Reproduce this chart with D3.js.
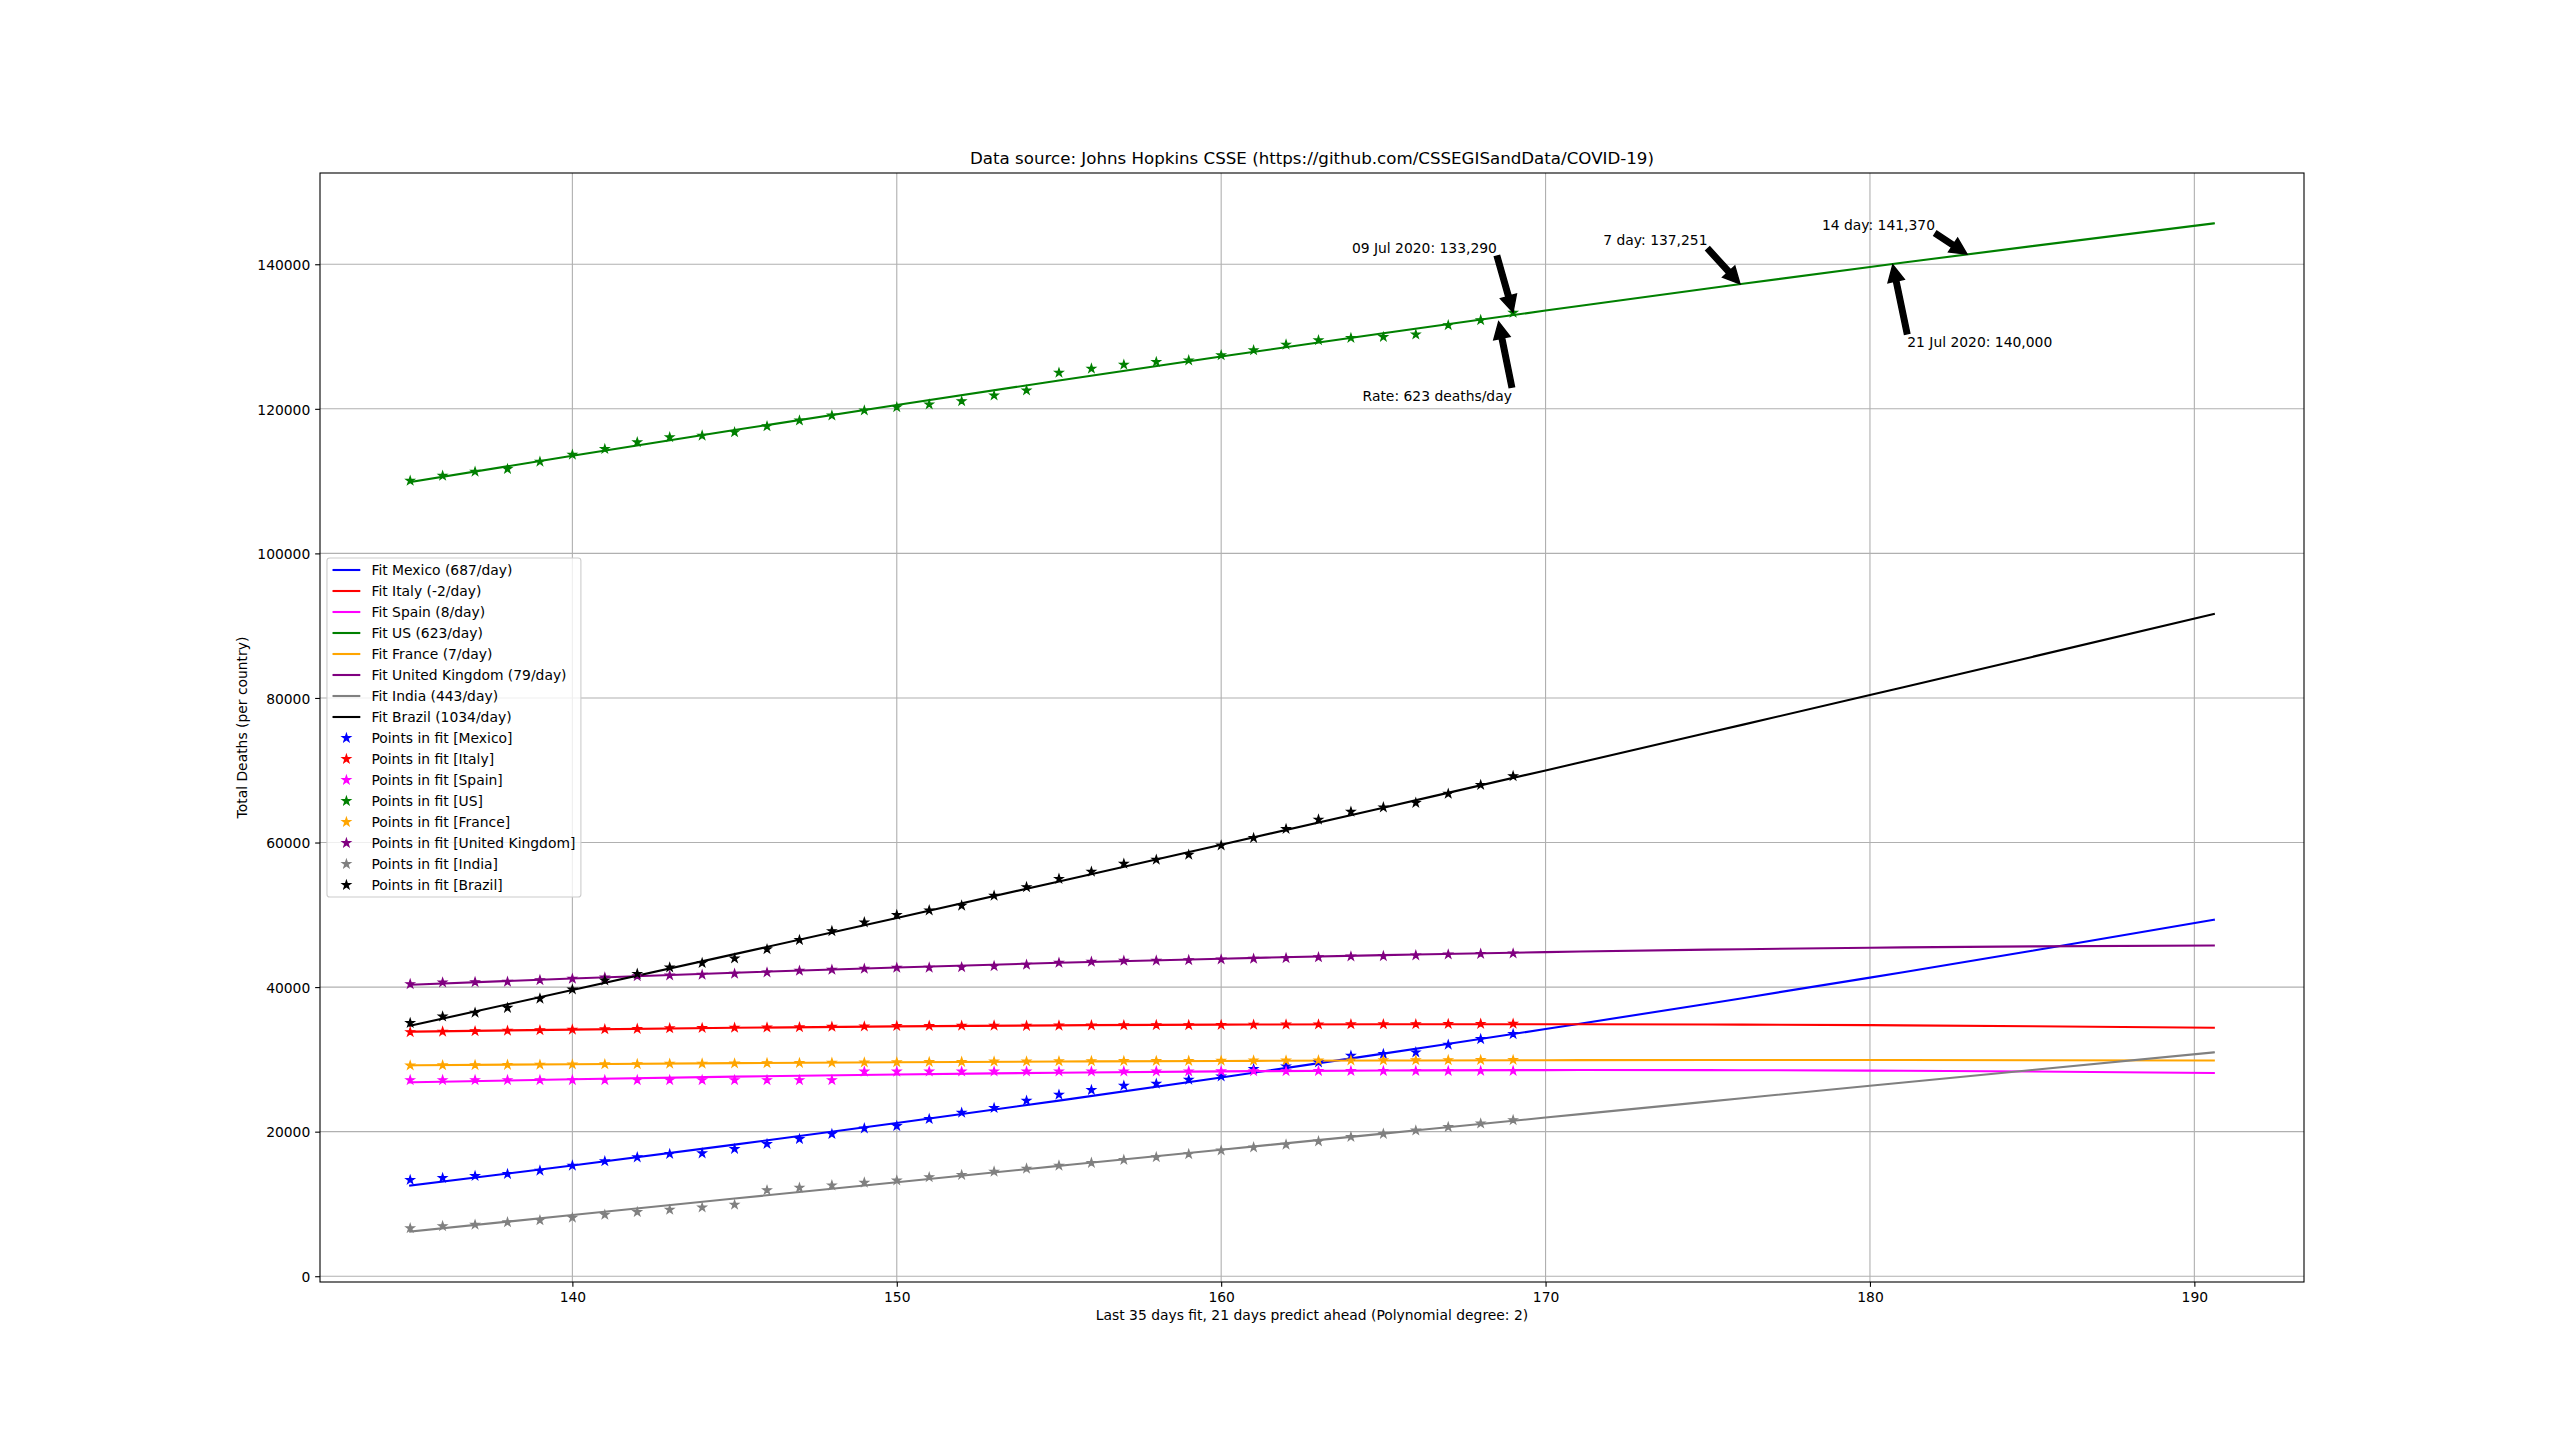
<!DOCTYPE html>
<html>
<head>
<meta charset="utf-8">
<script src="https://cdn.jsdelivr.net/npm/d3@7"></script>
<style>
  body { margin: 0; background: #ffffff; }
  svg { display: block; }
  text { font-family: "DejaVu Sans", sans-serif; fill: #000; }
</style>
</head>
<body>
<svg id="chart" width="2560" height="1440"></svg>
<script>
// ---------------- DATA ----------------
const countries = ["Mexico", "Italy", "Spain", "US", "France", "United Kingdom", "India", "Brazil"];
const seriesColors = ["#0000ff", "#ff0000", "#ff00ff", "#008000", "#ffa500", "#800080", "#808080", "#000000"];
const ratesPerDay = [687, -2, 8, 623, 7, 79, 443, 1034];

const days = [135,136,137,138,139,140,141,142,143,144,145,146,147,148,149,150,151,152,153,154,
              155,156,157,158,159,160,161,162,163,164,165,166,167,168,169];

const mexicoPts  = [13318,13594,13871,14147,14608,15300,15899,16452,16912,17005,17604,18295,18986,19677,20460,20783,21751,22627,23272,24286,25115,25760,26359,26636,27189,27650,28664,29032,29585,30507,30737,30968,32028,32811,33502];
const italyPts   = [33774,33846,33899,33964,34043,34114,34167,34223,34301,34345,34371,34405,34448,34514,34561,34610,34634,34657,34675,34644,34678,34708,34716,34738,34744,34767,34788,34818,34833,34854,34861,34869,34899,34914,34926];
const spainPts   = [27134,27134,27134,27134,27134,27134,27134,27134,27134,27134,27134,27134,27134,27134,28315,28315,28322,28324,28325,28327,28327,28330,28338,28341,28346,28355,28364,28368,28385,28385,28385,28388,28392,28396,28401];
const usPts      = [110050,110740,111300,111670,112690,113660,114440,115370,116060,116300,116760,117590,118380,119070,119770,120230,120600,121060,121850,122550,125000,125560,126110,126480,126710,127410,128100,128890,129490,129810,129950,130280,131570,132270,133290];
const francePts  = [29155,29180,29205,29245,29260,29300,29325,29350,29400,29420,29440,29480,29510,29540,29570,29600,29640,29660,29700,29720,29740,29760,29780,29790,29800,29820,29840,29850,29860,29870,29880,29890,29900,29910,29920];
const ukPts      = [40415,40645,40690,40740,40970,41150,41340,41520,41610,41700,41840,42030,42260,42400,42530,42670,42700,42760,42900,43090,43360,43500,43640,43660,43730,43820,43920,44010,44130,44240,44290,44390,44520,44600,44650];
const indiaPts   = [6642,6929,7135,7466,7745,8102,8498,8884,9195,9520,9900,11903,12237,12573,12948,13254,13699,14011,14476,14894,15301,15685,16095,16475,16893,17400,17834,18213,18655,19268,19693,20160,20642,21129,21604];
const brazilPts  = [35026,35930,36455,37134,38406,39680,40919,41828,42720,43332,43959,45241,46510,47748,48954,49976,50617,51271,52645,53830,54971,55961,57070,57622,58314,59594,60632,61884,63174,64265,64867,65487,66741,67964,69184];

// fitted curve values at these days
const fitDays    = [135,140,145,150,155,160,165,170,175,180,185,190.6];
const mexicoFit  = [12535,15320,18208,21199,24294,27491,30792,34196,37703,41314,45027,49309];
const italyFit   = [33831,34122,34366,34562,34710,34810,34863,34867,34824,34732,34593,34380];
const spainFit   = [26820,27246,27611,27915,28157,28338,28457,28516,28513,28449,28323,28110];
const usFit      = [109860,113503,117060,120533,123923,127230,130453,133593,136650,139623,142513,145651];
const franceFit  = [29170,29333,29476,29599,29701,29783,29844,29886,29906,29907,29887,29840];
const ukFit      = [40320,41194,41991,42713,43359,43929,44423,44840,45182,45448,45638,45760];
const indiaFit   = [6175,8464,10742,13007,15261,17503,19733,21952,24158,26354,28537,30968];
const brazilFit  = [34654,39588,44559,49567,54613,59697,64818,69977,75173,80407,85678,91626];

const xTickValues = [140,150,160,170,180,190];
const yTickValues = [0,20000,40000,60000,80000,100000,120000,140000];

const titleText = "Data source: Johns Hopkins CSSE (https://github.com/CSSEGISandData/COVID-19)";
const xLabelText = "Last 35 days fit, 21 days predict ahead (Polynomial degree: 2)";
const yLabelText = "Total Deaths (per country)";

// annotations: target (day, deaths) and text anchor (day, deaths, left/baseline)
const annLabels  = ["09 Jul 2020: 133,290", "Rate: 623 deaths/day", "7 day: 137,251", "14 day: 141,370", "21 Jul 2020: 140,000"];
const annTargetX = [169, 168.55, 176, 183, 180.7];
const annTargetY = [133290, 132100, 137251, 141370, 140000];
const annTextX   = [164.03, 164.36, 171.78, 178.52, 181.15];
const annTextY   = [141600, 121130, 142600, 144710, 128500];

// ---------------- BUILD ----------------
const pointsData = [mexicoPts, italyPts, spainPts, usPts, francePts, ukPts, indiaPts, brazilPts];
const fitData = [mexicoFit, italyFit, spainFit, usFit, franceFit, ukFit, indiaFit, brazilFit];

const series = countries.map((c, i) => ({
  name: c, color: seriesColors[i], rate: ratesPerDay[i],
  pts: days.map((d, j) => ({x: d, y: pointsData[i][j]})),
  fit: fitDays.map((d, j) => ({x: d, y: fitData[i][j]}))
}));

const W = 2560, H = 1440;
const plot = {left: 320, right: 2304, top: 173, bottom: 1282};
const FS = 13.89;   // 10pt at 100 dpi
const TFS = 16.67;  // 12pt

// autoscale with 5% margins like matplotlib
const allX = series.flatMap(s => s.fit.map(p => p.x).concat(s.pts.map(p => p.x)));
const allY = series.flatMap(s => s.fit.map(p => p.y).concat(s.pts.map(p => p.y)));
const [xmin, xmax] = d3.extent(allX);
const [ymin, ymax] = d3.extent(allY);
const xm = 0.05 * (xmax - xmin), ym = 0.05 * (ymax - ymin);

const x = d3.scaleLinear().domain([xmin - xm, xmax + xm]).range([plot.left, plot.right]);
const y = d3.scaleLinear().domain([ymin - ym, ymax + ym]).range([plot.bottom, plot.top]);

const svg = d3.select("#chart");
svg.append("rect").attr("width", W).attr("height", H).attr("fill", "#fff");

// grid
const grid = svg.append("g");
grid.selectAll("line.vx").data(xTickValues).join("line")
  .attr("x1", d => x(d)).attr("x2", d => x(d))
  .attr("y1", plot.top).attr("y2", plot.bottom)
  .attr("stroke", "#b0b0b0").attr("stroke-width", 1.1);
grid.selectAll("line.hy").data(yTickValues).join("line")
  .attr("y1", d => y(d)).attr("y2", d => y(d))
  .attr("x1", plot.left).attr("x2", plot.right)
  .attr("stroke", "#b0b0b0").attr("stroke-width", 1.1);

// fit lines
const lineGen = d3.line().x(d => x(d.x)).y(d => y(d.y)).curve(d3.curveNatural);
svg.append("g").selectAll("path").data(series).join("path")
  .attr("d", s => lineGen(s.fit))
  .attr("fill", "none").attr("stroke", s => s.color).attr("stroke-width", 2.1)
  .attr("stroke-linejoin", "round").attr("stroke-linecap", "square");

// star markers
const starPath = d3.symbol().type(d3.symbolStar).size(21)();
const ptsG = svg.append("g");
series.forEach(s => {
  ptsG.append("g").selectAll("path").data(s.pts).join("path")
    .attr("d", starPath)
    .attr("transform", d => `translate(${x(d.x)},${y(d.y)})`)
    .attr("fill", s.color).attr("stroke", s.color).attr("stroke-width", 1.2)
    .attr("stroke-linejoin", "miter");
});

// axes
const xAxis = d3.axisBottom(x).tickValues(xTickValues).tickFormat(d3.format("d"))
  .tickSize(4.86).tickSizeOuter(0).tickPadding(4.86);
const yAxis = d3.axisLeft(y).tickValues(yTickValues).tickFormat(d3.format("d"))
  .tickSize(4.86).tickSizeOuter(0).tickPadding(4.86);

const gx = svg.append("g").attr("transform", `translate(0,${plot.bottom})`).call(xAxis);
const gy = svg.append("g").attr("transform", `translate(${plot.left},0)`).call(yAxis);
[gx, gy].forEach(g => {
  g.select(".domain").remove();
  g.selectAll(".tick line").attr("stroke", "#000").attr("stroke-width", 1.1);
  g.selectAll(".tick text").attr("font-family", "DejaVu Sans").attr("font-size", FS).attr("fill", "#000");
});
gy.selectAll(".tick text").attr("dy", "0.38em");

// frame (spines)
svg.append("rect")
  .attr("x", plot.left).attr("y", plot.top)
  .attr("width", plot.right - plot.left).attr("height", plot.bottom - plot.top)
  .attr("fill", "none").attr("stroke", "#000").attr("stroke-width", 1.1);

// title and labels
svg.append("text").attr("x", (plot.left + plot.right) / 2).attr("y", 164)
  .attr("text-anchor", "middle").attr("font-size", TFS).text(titleText);
svg.append("text").attr("x", (plot.left + plot.right) / 2).attr("y", 1320)
  .attr("text-anchor", "middle").attr("font-size", FS).text(xLabelText);
svg.append("text")
  .attr("transform", `translate(247,${(plot.top + plot.bottom) / 2}) rotate(-90)`)
  .attr("text-anchor", "middle").attr("font-size", FS).text(yLabelText);

// annotations
const annG = svg.append("g");
function arrowPoly(x0, y0, x1, y1) {
  const dx = x1 - x0, dy = y1 - y0, L = Math.hypot(dx, dy);
  const ux = dx / L, uy = dy / L, nx = -uy, ny = ux;
  const hl = Math.min(16.7, L * 0.9), hw = 16.7 / 2, tw = 5.56 / 2;
  const bx = x1 - ux * hl, by = y1 - uy * hl;
  return [
    [x0 + nx * tw, y0 + ny * tw], [bx + nx * tw, by + ny * tw], [bx + nx * hw, by + ny * hw],
    [x1, y1],
    [bx - nx * hw, by - ny * hw], [bx - nx * tw, by - ny * tw], [x0 - nx * tw, y0 - ny * tw]
  ];
}
annLabels.forEach((lab, i) => {
  const t = annG.append("text").attr("x", x(annTextX[i])).attr("y", y(annTextY[i]))
    .attr("font-size", FS).text(lab);
  const bb = t.node().getBBox();
  const tx = x(annTargetX[i]), ty = y(annTargetY[i]);
  const xs = [bb.x, bb.x + bb.width / 2, bb.x + bb.width];
  const ys = [bb.y, bb.y + bb.height / 2, bb.y + bb.height];
  const sx = xs.reduce((a, b) => Math.abs(b - tx) < Math.abs(a - tx) ? b : a);
  const sy = ys.reduce((a, b) => Math.abs(b - ty) < Math.abs(a - ty) ? b : a);
  const r = Math.hypot(tx - sx, ty - sy);
  const sh = 0.05 * r / 10 * (100 / 72);
  const ux = (tx - sx) / r, uy = (ty - sy) / r;
  const pts = arrowPoly(sx + ux * sh, sy + uy * sh, tx - ux * sh, ty - uy * sh);
  annG.append("polygon").attr("points", pts.map(p => p.join(",")).join(" "))
    .attr("fill", "#000").attr("stroke", "#000").attr("stroke-width", 1.39)
    .attr("stroke-linejoin", "miter");
});

// legend
const legEntries = series.map(s => ({type: "line", color: s.color, label: `Fit ${s.name} (${s.rate}/day)`}))
  .concat(series.map(s => ({type: "star", color: s.color, label: `Points in fit [${s.name}]`})));
const rowH = 21.0;
const legH = (legEntries.length - 1) * rowH + 24;
const legLeft = plot.left + 6.95;
const legTop = (plot.top + plot.bottom) / 2 - legH / 2;
const legG = svg.append("g");
const legBox = legG.append("rect");
const handleX0 = legLeft + 5.56, handleX1 = handleX0 + 27.8, textX = handleX1 + 11.1;
let maxW = 0;
legEntries.forEach((e, i) => {
  const cy = legTop + 12 + i * rowH;
  if (e.type === "line") {
    legG.append("line").attr("x1", handleX0).attr("x2", handleX1).attr("y1", cy).attr("y2", cy)
      .attr("stroke", e.color).attr("stroke-width", 2.1);
  } else {
    legG.append("path").attr("d", starPath).attr("transform", `translate(${(handleX0 + handleX1) / 2},${cy})`)
      .attr("fill", e.color).attr("stroke", e.color).attr("stroke-width", 1.2);
  }
  const t = legG.append("text").attr("x", textX).attr("y", cy + 5.2).attr("font-size", FS).text(e.label);
  maxW = Math.max(maxW, t.node().getComputedTextLength());
});
legBox.attr("x", legLeft).attr("y", legTop)
  .attr("width", textX + maxW + 5.56 - legLeft).attr("height", legH)
  .attr("rx", 2.8).attr("ry", 2.8)
  .attr("fill", "#ffffff").attr("fill-opacity", 0.8)
  .attr("stroke", "#cccccc").attr("stroke-width", 1.1);
</script>
</body>
</html>
